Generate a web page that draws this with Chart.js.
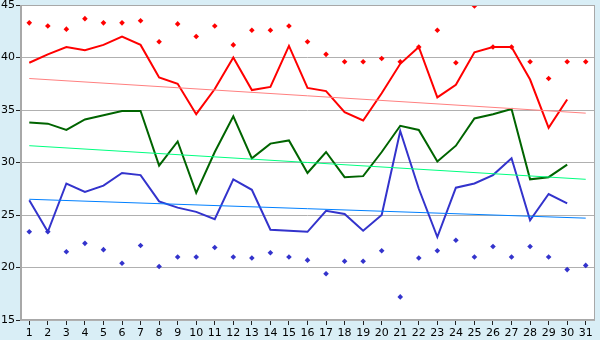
<!DOCTYPE html>
<html>
<head>
<meta charset="utf-8">
<script src="https://cdn.jsdelivr.net/npm/chart.js@4"></script>
<style>
  html, body { margin: 0; padding: 0; background: #d9eef6; }
  #wrap { width: 600px; height: 340px; }
</style>
</head>
<body>
<div id="wrap"><canvas id="chart" width="600" height="340"></canvas></div>
<script>
const days = Array.from({ length: 31 }, (_, i) => String(i + 1));

const redLine = [39.5, 40.3, 41.0, 40.7, 41.2, 42.0, 41.2, 38.1, 37.5, 34.6,
  37.0, 40.0, 36.9, 37.2, 41.1, 37.1, 36.8, 34.8, 34.0, 36.6,
  39.4, 41.0, 36.2, 37.4, 40.5, 41.0, 41.0, 37.9, 33.3, 36.0, null];
const greenLine = [33.8, 33.7, 33.1, 34.1, 34.5, 34.9, 34.9, 29.7, 32.0, 27.1,
  31.0, 34.4, 30.4, 31.8, 32.1, 29.0, 31.0, 28.6, 28.7, 31.0,
  33.5, 33.1, 30.1, 31.6, 34.2, 34.6, 35.1, 28.4, 28.6, 29.8, null];
const blueLine = [26.4, 23.4, 28.0, 27.2, 27.8, 29.0, 28.8, 26.3, 25.7, 25.3,
  24.6, 28.4, 27.4, 23.6, 23.5, 23.4, 25.4, 25.1, 23.5, 25.0,
  33.0, 27.5, 22.9, 27.6, 28.0, 28.8, 30.4, 24.5, 27.0, 26.1, null];
const maxPoints = [43.3, 43.0, 42.7, 43.7, 43.3, 43.3, 43.5, 41.5, 43.2, 42.0,
  43.0, 41.2, 42.6, 42.6, 43.0, 41.5, 40.3, 39.6, 39.6, 39.9,
  39.6, 41.0, 42.6, 39.5, 44.9, 41.0, 41.0, 39.6, 38.0, 39.6, 39.6];
const minPoints = [23.4, 23.4, 21.5, 22.3, 21.7, 20.4, 22.1, 20.1, 21.0, 21.0,
  21.9, 21.0, 20.9, 21.4, 21.0, 20.7, 19.4, 20.6, 20.6, 21.6,
  17.2, 20.9, 21.6, 22.6, 21.0, 22.0, 21.0, 22.0, 21.0, 19.8, 20.2];
// trend lines: start (day 1) and end (day 31) values
const redTrend = [38.0, 34.7];
const greenTrend = [31.6, 28.4];
const blueTrend = [26.5, 24.7];
const yTicks = [15, 20, 25, 30, 35, 40, 45];

function trendSeries(ends) {
  return days.map((d, i) => (i === 0 ? ends[0] : i === days.length - 1 ? ends[1] : null));
}

const plotBackground = {
  id: "plotBackground",
  beforeDraw(chart) {
    const { ctx, chartArea } = chart;
    ctx.save();
    ctx.fillStyle = "#d9eef6";
    ctx.fillRect(0, 0, chart.width, chart.height);
    ctx.fillStyle = "#ffffff";
    ctx.fillRect(chartArea.left, chartArea.top, chartArea.right - chartArea.left, chartArea.bottom - chartArea.top);
    ctx.restore();
  },
  afterDatasetsDraw(chart) {
    const { ctx, chartArea } = chart;
    ctx.save();
    ctx.strokeStyle = "#a8a8a8";
    ctx.lineWidth = 1;
    ctx.strokeRect(chartArea.left + 0.5, chartArea.top + 0.5, chartArea.right - chartArea.left - 1, chartArea.bottom - chartArea.top - 1);
    ctx.lineWidth = 2;
    ctx.beginPath();
    ctx.moveTo(chartArea.left + 1, chartArea.top);
    ctx.lineTo(chartArea.left + 1, chartArea.bottom);
    ctx.stroke();
    ctx.restore();
  },
};

function line(data, color, width) {
  return { type: "line", data, borderColor: color, backgroundColor: color, borderWidth: width, pointRadius: 0, tension: 0, spanGaps: true, order: 2 };
}
function markers(data, color) {
  return { type: "line", data, showLine: false, pointStyle: "rectRot", pointRadius: 2.8, pointBorderWidth: 0, pointBackgroundColor: color, borderColor: color, order: 1 };
}

new Chart(document.getElementById("chart"), {
  type: "line",
  data: {
    labels: days,
    datasets: [
      line(trendSeries(redTrend), "#ff8080", 1),
      line(trendSeries(greenTrend), "#00ff80", 1),
      line(trendSeries(blueTrend), "#0080ff", 1),
      line(redLine, "#ff0000", 2),
      line(greenLine, "#006400", 2),
      line(blueLine, "#3333cc", 2),
      markers(maxPoints, "#ff0000"),
      markers(minPoints, "#3333cc"),
    ],
  },
  options: {
    responsive: false,
    animation: false,
    layout: { padding: { top: 5, right: 5, left: 0, bottom: 0 } },
    plugins: { legend: { display: false }, tooltip: { enabled: false } },
    scales: {
      x: {
        offset: true,
        grid: { offset: false, drawOnChartArea: false, drawTicks: true, tickLength: 5, tickColor: "#222" },
        border: { display: false },
        ticks: { color: "#000", font: { family: "DejaVu Sans", size: 11 }, padding: 2, maxRotation: 0, autoSkip: false },
        afterFit(scale) { scale.height = 20; scale.paddingLeft = 0; scale.paddingRight = 0; },
      },
      y: {
        min: 15,
        max: 45,
        afterBuildTicks(scale) { scale.ticks = yTicks.map((v) => ({ value: v })); },
        grid: { color: "#b0b0b0", tickLength: 4, drawTicks: true, tickColor: "#222" },
        border: { display: false },
        ticks: { color: "#000", font: { family: "DejaVu Sans", size: 11 }, padding: 1 },
        afterFit(scale) { scale.width = 20; scale.paddingTop = 0; scale.paddingBottom = 0; },
      },
    },
  },
  plugins: [plotBackground],
});
</script>
</body>
</html>
